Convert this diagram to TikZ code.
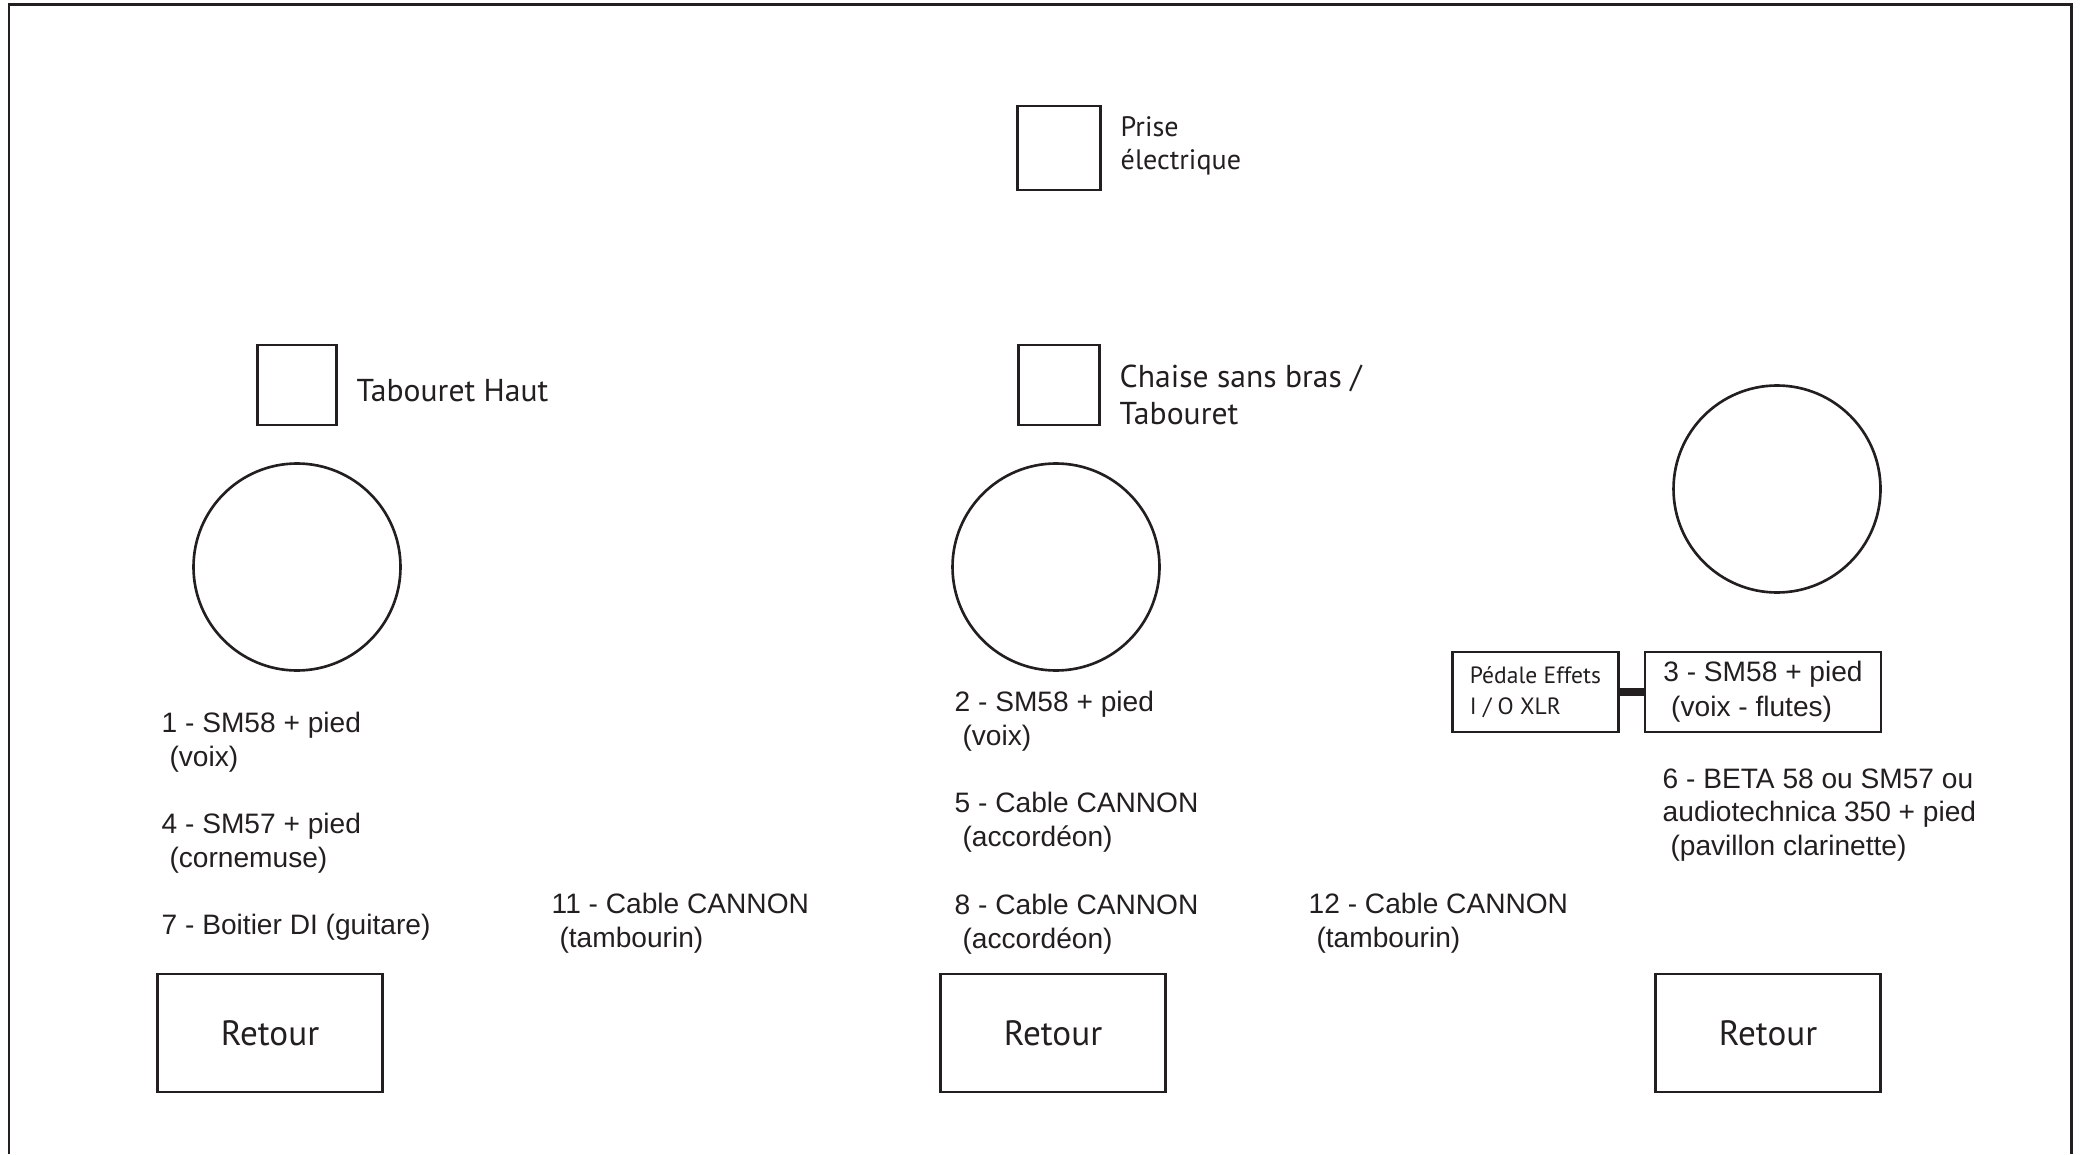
\documentclass[tikz,border=0pt]{standalone}
\usepackage{fontspec}
\setmainfont{Liberation Sans}
\newfontfamily\myriad{PT Sans}
\usepackage{tikz}
\usetikzlibrary{positioning}
\definecolor{encre}{RGB}{35,31,32}

\begin{document}
\begin{tikzpicture}[
        x=0.1mm, y=-0.1mm,
        every node/.style = {text=encre},
        meuble/.style = {draw=encre, line width=0.75pt, inner sep=0pt, minimum width=8mm, minimum height=8mm},
        musicien/.style = {draw=encre, circle, line width=0.75pt, inner sep=0pt, minimum size=20.7mm},
        legende/.style = {inner sep=0pt, anchor=base west, align=left, font=\myriad\fontsize{9}{10.5}\selectfont},
        micro/.style = {inner sep=0pt, anchor=base west, align=left, font=\fontsize{8}{9.4}\selectfont},
        retour/.style = {draw=encre, line width=0.75pt, minimum width=22.5mm, minimum height=11.8mm, font=\myriad\fontsize{10}{12}\selectfont},
        liaison/.style = {draw=encre, line width=2pt},
    ]
        \useasboundingbox (0,0) rectangle (2083,1154);
        \draw[encre, line width=0.85pt] (9,1154) |- (2071,5) -- (2071,1154);

        \node[meuble, minimum width=8.3mm, minimum height=8.4mm] (prise) at (1059,148) {};
        \node[legende, font=\myriad\fontsize{8}{9.4}\selectfont] (prise-txt) at (1120,170) {Prise\\électrique};
        \node[meuble, minimum width=7.9mm] (tabouret) at (297,385) {};
        \node[legende] (tabouret-txt) at (356,401) {Tabouret Haut};
        \node[meuble, minimum width=8.1mm] (chaise) at (1059,385) {};
        \node[legende] (chaise-txt) at (1119,424) {Chaise sans bras /\\Tabouret};

        \node[musicien] (musicien1) at (297,567) {};
        \node[musicien] (musicien2) at (1056,567) {};
        \node[musicien] (musicien3) at (1777,489) {};

        \node[micro] (micro1) at (161,766) {1 - SM58 + pied\\\ (voix)};
        \node[micro] (micro4) at (161,867) {4 - SM57 + pied\\\ (cornemuse)};
        \node[micro] (di7) at (161,934) {7 - Boitier DI (guitare)};
        \node[micro] (cable11) at (551,947) {11 - Cable CANNON\\\ (tambourin)};
        \node[micro] (micro2) at (954,745) {2 - SM58 + pied\\\ (voix)};
        \node[micro] (cable5) at (954,846) {5 - Cable CANNON\\\ (accordéon)};
        \node[micro] (cable8) at (954,948) {8 - Cable CANNON\\\ (accordéon)};
        \node[micro] (cable12) at (1308,947) {12 - Cable CANNON\\\ (tambourin)};
        \node[micro] (micro6) at (1662,855) {6 - BETA 58 ou SM57 ou\\audiotechnica 350 + pied\\\ (pavillon clarinette)};

        \node[meuble, minimum width=23.6mm, align=left, font=\fontsize{8}{10}\selectfont] (micro3) at (1763,692) {3 - SM58 + pied\\\ (voix - flutes)};
        \node[meuble, minimum width=16.6mm, align=left, font=\myriad\fontsize{6.7}{8.8}\selectfont, left=2.4mm of micro3] (pedale) {Pédale Effets\\I / O XLR};
        \draw[liaison] (pedale) -- (micro3);

        \node[retour] (retour1) at (270,1033) {Retour};
        \node[retour] (retour2) at (1053,1033) {Retour};
        \node[retour] (retour3) at (1768,1033) {Retour};
    \end{tikzpicture}
\end{document}
